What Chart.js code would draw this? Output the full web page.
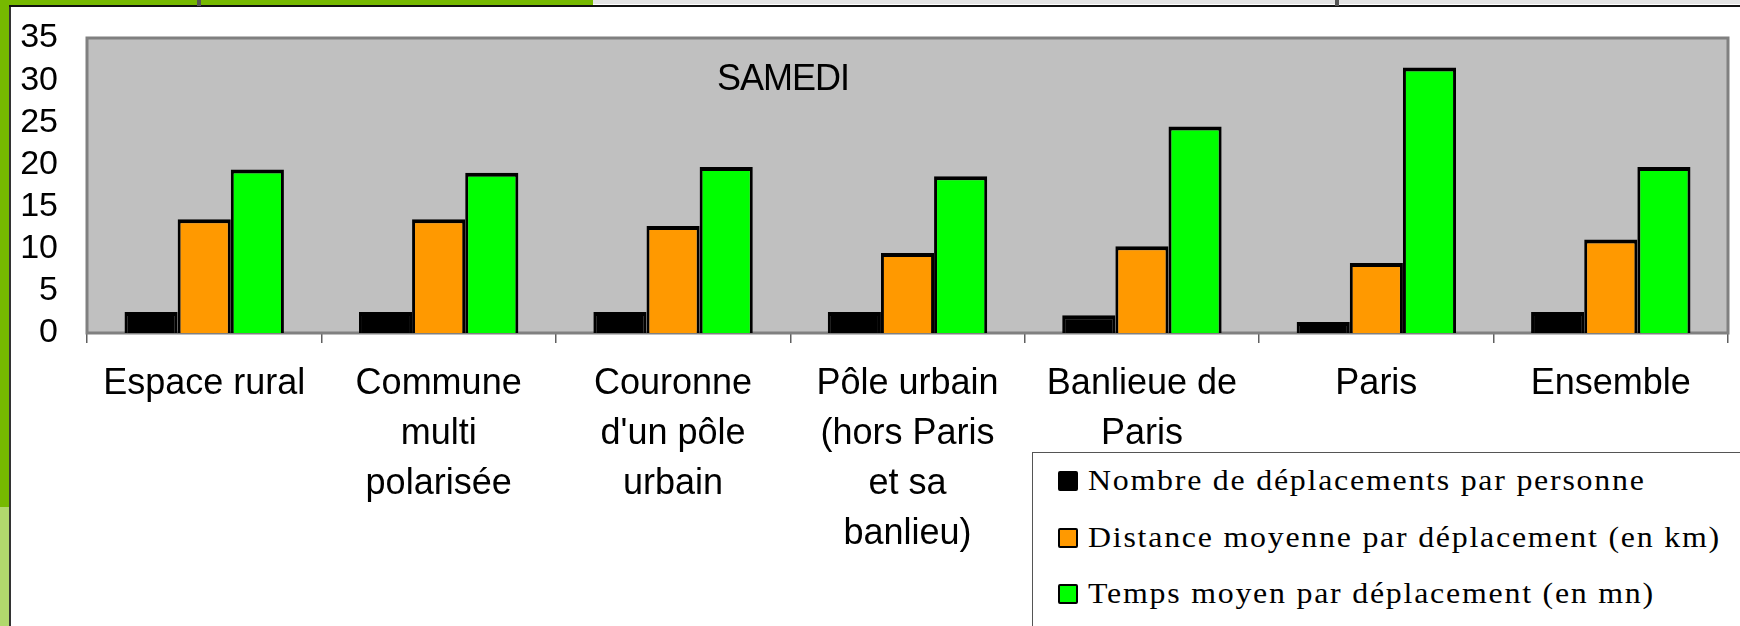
<!DOCTYPE html>
<html lang="fr">
<head>
<meta charset="utf-8">
<title>Samedi</title>
<script src="https://cdn.jsdelivr.net/npm/chart.js@4.4.1/dist/chart.umd.min.js"></script>
<style>
  html, body { margin: 0; padding: 0; background: #fff; }
  .page { position: relative; width: 1740px; height: 626px; overflow: hidden; background: #fff; }
  #chart { position: absolute; left: 0; top: 0; }

  /* slide decoration */
  .strip-left { position: absolute; left: 0; top: 0; width: 9px; height: 507px; background: #76b900; }
  .strip-left2 { position: absolute; left: 0; top: 507px; width: 9px; height: 119px; background: #b1d86d; }
  .line-left { position: absolute; left: 9px; top: 5px; width: 2px; height: 621px; background: #333; }
  .strip-top { position: absolute; left: 0; top: 0; width: 593px; height: 5px; background: #76b900; }
  .strip-top2 { position: absolute; left: 593px; top: 0; width: 1147px; height: 4px; background: #e4e4e4; }
  .line-top { position: absolute; left: 9px; top: 5px; width: 1731px; height: 1.5px; background: #111; }
  .tick-top { position: absolute; top: 0; width: 4px; height: 6px; background: #555; }

  .samedi {
    position: absolute; left: 683px; top: 60px; width: 200px; text-align: center;
    font: 36px/36px "Liberation Sans", Arial, sans-serif; letter-spacing: -1px; color: #000;
  }

  #legend {
    position: absolute; left: 1032px; top: 452px; width: 760px; height: 260px;
    border: 1px solid #555; background: #fff;
  }
  .lg-mark {
    position: absolute; left: 25px; width: 16px; height: 16px;
    border: 2px solid #000; border-radius: 2px;
  }
  .lg-text {
    position: absolute; left: 55px; white-space: nowrap;
    font: 29px/29px "Liberation Serif", "Times New Roman", serif; letter-spacing: 1.6px;
    transform: scaleX(1.1); transform-origin: left top; color: #000;
  }
</style>
</head>
<body>
<div class="page">
  <canvas id="chart" width="1740" height="626"></canvas>

  <div class="strip-left"></div>
  <div class="strip-left2"></div>
  <div class="line-left"></div>
  <div class="strip-top"></div>
  <div class="strip-top2"></div>
  <div class="line-top"></div>
  <div class="tick-top" style="left:197px"></div>
  <div class="tick-top" style="left:1335px"></div>

  <div class="samedi">SAMEDI</div>
  <div id="legend"></div>
</div>

<script>
const categories = [
  ['Espace rural'],
  ['Commune', 'multi', 'polarisée'],
  ['Couronne', "d'un pôle", 'urbain'],
  ['Pôle urbain', '(hors Paris', 'et sa', 'banlieu)'],
  ['Banlieue de', 'Paris'],
  ['Paris'],
  ['Ensemble']
];

const seriesNames = [
  'Nombre de déplacements par personne',
  'Distance moyenne par déplacement (en km)',
  'Temps moyen par déplacement (en mn)'
];

const nombre   = [2.5, 2.5, 2.5, 2.5, 2.1, 1.3, 2.5];
const distance = [13.5, 13.5, 12.7, 9.5, 10.3, 8.3, 11.1];
const temps    = [19.4, 19.0, 19.7, 18.6, 24.5, 31.5, 19.7];

const yTicks = [0, 5, 10, 15, 20, 25, 30, 35];

const colors = ['#000000', '#ff9900', '#00ff00'];

// gray plot background + frame, like the old Excel chart
const plotFrame = {
  id: 'plotFrame',
  beforeDraw(chart) {
    const { ctx, chartArea: a } = chart;
    ctx.save();
    ctx.fillStyle = '#c0c0c0';
    ctx.fillRect(a.left, a.top, a.right - a.left, a.bottom - a.top);
    ctx.restore();
  },
  beforeDatasetsDraw(chart) {
    const { ctx, chartArea: a } = chart;
    ctx.save();
    ctx.strokeStyle = '#808080';
    ctx.lineWidth = 3;
    ctx.strokeRect(a.left, a.top, a.right - a.left, a.bottom - a.top);
    ctx.restore();
  }
};

// keep the plot box where the reference has it
function noPad(scale) {
  scale.paddingTop = 0;
  scale.paddingBottom = 0;
  scale.paddingLeft = 0;
  scale.paddingRight = 0;
}

const ctx = document.getElementById('chart');

const chart = new Chart(ctx, {
  type: 'bar',
  data: {
    labels: categories,
    datasets: [nombre, distance, temps].map((values, i) => ({
      label: seriesNames[i],
      data: values,
      backgroundColor: colors[i],
      borderColor: '#000',
      borderWidth: { top: 4, left: 3, right: 3, bottom: 0 },
      borderSkipped: 'start',
      barPercentage: 1,
      categoryPercentage: 0.68
    }))
  },
  options: {
    responsive: false,
    animation: false,
    layout: { padding: { top: 38, right: 12, bottom: 0, left: 0 } },
    plugins: {
      legend: { display: false },
      title: { display: false },
      tooltip: { enabled: false }
    },
    scales: {
      x: {
        afterFit(scale) { scale.height = 293; noPad(scale); },
        border: { display: false },
        grid: {
          display: true,
          drawOnChartArea: false,
          drawTicks: true,
          tickLength: 10,
          color: '#606060',
          lineWidth: 1.5
        },
        ticks: {
          color: '#000',
          padding: 16,
          maxRotation: 0,
          minRotation: 0,
          autoSkip: false,
          font: { family: '"Liberation Sans", Arial, sans-serif', size: 36, lineHeight: 50 / 36 }
        }
      },
      y: {
        min: 0,
        max: 35,
        afterFit(scale) { scale.width = 87; noPad(scale); },
        afterBuildTicks(scale) { scale.ticks = yTicks.map(v => ({ value: v })); },
        border: { display: false },
        grid: { display: false, drawTicks: false },
        ticks: {
          color: '#000',
          padding: 29,
          autoSkip: false,
          font: { family: '"Liberation Sans", Arial, sans-serif', size: 34, lineHeight: 1 }
        }
      }
    }
  },
  plugins: [plotFrame]
});

// legend box built from the chart datasets
const legendBox = document.getElementById('legend');
chart.data.datasets.forEach((ds, i) => {
  const mark = document.createElement('div');
  mark.className = 'lg-mark';
  mark.style.top = (18 + i * 56.7) + 'px';
  mark.style.background = ds.backgroundColor;
  legendBox.appendChild(mark);

  const text = document.createElement('div');
  text.className = 'lg-text';
  text.style.top = (13 + i * 56.7) + 'px';
  text.textContent = ds.label;
  legendBox.appendChild(text);
});
</script>
</body>
</html>
